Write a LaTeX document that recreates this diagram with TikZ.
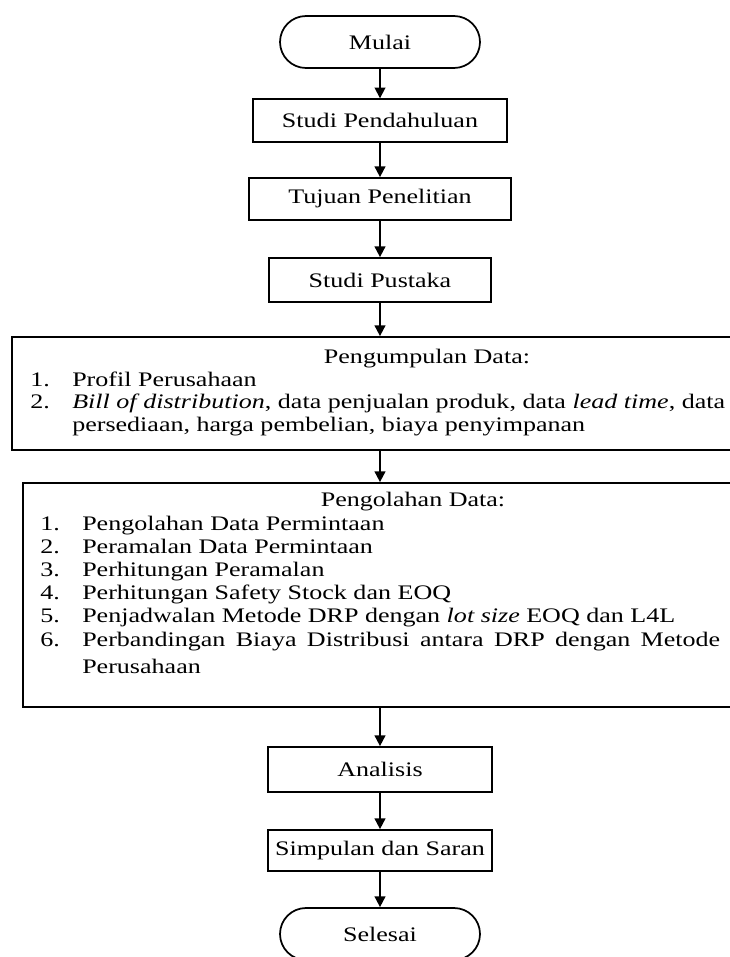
\documentclass[tikz,border=0pt]{standalone}
\usepackage{fontspec}
\setmainfont{Liberation Serif}[FakeStretch=1.26]
\usetikzlibrary{shapes.misc,arrows.meta}
\begin{document}
\begin{tikzpicture}[x=0.75pt,y=-0.75pt,
every node/.style={font=\fontsize{15.5}{17}\selectfont},
kotak/.style={draw, line width=1.3pt, inner sep=0pt},
terminal/.style={draw, line width=1.3pt, rounded rectangle, inner sep=0pt,
  minimum width=150pt, minimum height=39pt},
baris/.style={anchor=base west, inner sep=0pt},
panah/.style={line width=1.3pt, -{Triangle[width=8pt,length=8pt]}}
]
\useasboundingbox (0,0) rectangle (730,957);
\node[terminal] (mulai) at (380,42) {Mulai};
\node[kotak, minimum width=191pt, minimum height=32pt] (pendahuluan) at (380,120.5) {Studi Pendahuluan};
\node[kotak, minimum width=196.5pt, minimum height=31.5pt] (tujuan) at (380,199) {Tujuan Penelitian};
\node[kotak, minimum width=167pt, minimum height=33pt] (pustaka) at (380,280) {Studi Pustaka};
\node[kotak, minimum width=622.5pt, minimum height=84.75pt] (kumpul) at (427,393.5) {};
\node[kotak, minimum width=585pt, minimum height=168pt] (olah) at (413,595) {};
\node[kotak, minimum width=168pt, minimum height=33.75pt] (analisis) at (380,769.5) {Analisis};
\node[kotak, minimum width=168pt, minimum height=30.75pt] (simpulan) at (380,850.5) {Simpulan dan Saran};
\node[terminal] (selesai) at (380,934) {Selesai};
% isi pengumpulan data
\node[anchor=base, inner sep=0pt] (judulkumpul) at (427,363) {Pengumpulan Data:};
\node[baris] (nokumpul1) at (30,386) {1.};
\node[baris] (kumpul1) at (72,386) {Profil Perusahaan};
\node[baris] (nokumpul2) at (30,408) {2.};
\node[baris] (kumpul2) at (72,408) {\makebox[489.75pt][s]{\textit{Bill of distribution}, data penjualan produk, data \textit{lead time}, data}};
\node[baris] (kumpul2b) at (72,431) {persediaan, harga pembelian, biaya penyimpanan};
% isi pengolahan data
\node[anchor=base, inner sep=0pt] (judulolah) at (413,506) {Pengolahan Data:};
\node[baris] (noolah1) at (40,530) {1.};
\node[baris] (olah1) at (82,530) {Pengolahan Data Permintaan};
\node[baris] (noolah2) at (40,553) {2.};
\node[baris] (olah2) at (82,553) {Peramalan Data Permintaan};
\node[baris] (noolah3) at (40,576) {3.};
\node[baris] (olah3) at (82,576) {Perhitungan Peramalan};
\node[baris] (noolah4) at (40,599) {4.};
\node[baris] (olah4) at (82,599) {Perhitungan Safety Stock dan EOQ};
\node[baris] (noolah5) at (40,622) {5.};
\node[baris] (olah5) at (82,622) {Penjadwalan Metode DRP dengan \textit{lot size} EOQ dan L4L};
\node[baris] (noolah6) at (40,646) {6.};
\node[baris] (olah6) at (82,646) {\makebox[478.5pt][s]{Perbandingan Biaya Distribusi antara DRP dengan Metode}};
\node[baris] (olah6b) at (82,673) {Perusahaan};
% panah
\draw[panah] (mulai) -- (pendahuluan);
\draw[panah] (pendahuluan) -- (tujuan);
\draw[panah] (tujuan) -- (pustaka);
\draw[panah] (pustaka) -- (pustaka |- kumpul.north);
\draw[panah] (kumpul.south -| pustaka) -- (olah.north -| pustaka);
\draw[panah] (olah.south -| analisis) -- (analisis);
\draw[panah] (analisis) -- (simpulan);
\draw[panah] (simpulan) -- (selesai);
\end{tikzpicture}
\end{document}
